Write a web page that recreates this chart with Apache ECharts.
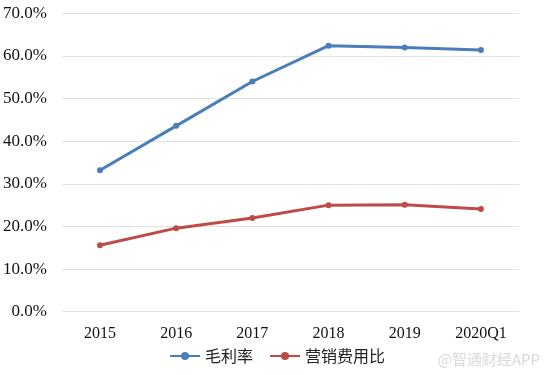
<!DOCTYPE html>
<html><head><meta charset="utf-8">
<script src="https://cdn.jsdelivr.net/npm/echarts@6/dist/echarts.min.js"></script>
<style>html,body{margin:0;padding:0;background:#fff}#c{width:554px;height:375px}</style>
</head><body><div id="c"></div>
<script>
const categories = ['2015','2016','2017','2018','2019','2020Q1'];
const grossMargin = [33.2, 43.6, 54.0, 62.4, 62.0, 61.4];
const marketingRatio = [15.6, 19.6, 22.0, 25.0, 25.1, 24.1];
const seriesNames = ['毛利率','营销费用比'];

const chart = echarts.init(document.getElementById('c'));
chart.setOption({
  animation:false,
  backgroundColor:'#fff',
  grid:{left:60,right:35,top:13.3,bottom:63.3},
  legend:{
    bottom:6, left:'center', itemWidth:30, itemHeight:10, itemGap:16,
    textStyle:{fontFamily:'Noto Sans CJK SC',fontSize:16,color:'#222'},
    data:seriesNames
  },
  graphic:[{type:'text',right:14,bottom:8,style:{text:'@智通财经APP',fill:'#d8d8d8',font:'15px "Noto Sans CJK SC"'}}],
  xAxis:{type:'category',data:categories,boundaryGap:true,
    axisLine:{show:false},axisTick:{show:false},
    axisLabel:{margin:14,fontFamily:'Liberation Serif',fontSize:16,color:'#111'}},
  yAxis:{type:'value',min:0,max:70,interval:10,
    axisLabel:{formatter:v=>v.toFixed(1)+'%',fontFamily:'Liberation Serif',fontSize:17,color:'#111',margin:15},
    splitLine:{lineStyle:{color:'#e2e2e2',width:1}}},
  series:[
    {name:seriesNames[0],type:'line',data:grossMargin,color:'#4a7ebb',
     symbol:'circle',symbolSize:6,lineStyle:{width:3},itemStyle:{color:'#4a7ebb'}},
    {name:seriesNames[1],type:'line',data:marketingRatio,color:'#be4b48',
     symbol:'circle',symbolSize:6,lineStyle:{width:3},itemStyle:{color:'#be4b48'}}
  ]
});
</script></body></html>
